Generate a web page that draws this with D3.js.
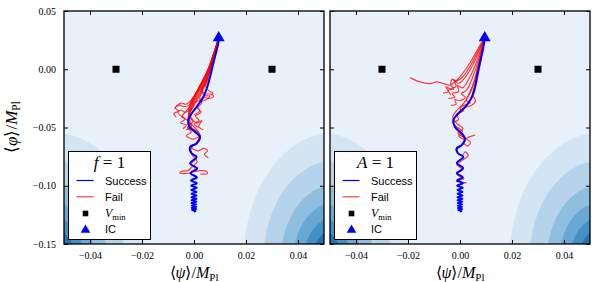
<!DOCTYPE html>
<html lang='en'>
<head>
<meta charset='UTF-8'>
<title>Trajectories</title>
<style>
  body { margin: 0; background: #fff; }
  svg { display: block; }
  .tick text { font-family: 'Liberation Serif', serif; font-size: 10px; fill: #000; }
  .tick line { stroke: #000; stroke-width: 1px; }
</style>
</head>
<body>
<div id='chart'></div>
<script src='https://d3js.org/d3.v7.min.js'></script>
<script>
// tick values
var psiTicks = [-0.04, -0.02, 0, 0.02, 0.04]
var phiTicks = [0.05, 0, -0.05, -0.10, -0.15]

// potential minima and initial condition
var vmin = [[-0.03, 0], [0.03, 0]]
var ic = [0.0095, 0.027]

// potential contour bands (ellipse semi-axes, data units) around two centres
var contourCentres = [[-0.054, -0.164], [0.054, -0.164]]
var contourPsiR = [0.035, 0.0273, 0.0206, 0.0158, 0.0118, 0.0085, 0.0058]
var contourPhiR = [0.1097, 0.0856, 0.0646, 0.0495, 0.037, 0.0266, 0.0182]
var bandColors = ['#e8f1fa', '#d3e4f3', '#b5d3ea', '#8fbfdf', '#68a8d3', '#4490c4', '#2571b1', '#0d559f']

// successful trajectories
var blueLeft = [
  [0.0095, 0.027], [0.0093, 0.022], [0.0074, 0.0049], [0.0055, -0.0123], [0.0036, -0.0238],
  [0.0010, -0.0323], [-0.0009, -0.038], [-0.0022, -0.0437], [-0.0018, -0.0495], [0.0004, -0.0538],
  [0.0023, -0.0581], [0.0010, -0.0637], [-0.0015, -0.0666], [-0.0009, -0.0723], [0.001, -0.0752],
  [-0.0015, -0.0809], [0.0012, -0.0852], [-0.0013, -0.0893], [0.0011, -0.0928], [-0.0012, -0.0955],
  [0.0011, -0.0978], [-0.0011, -0.0999], [0.0011, -0.1018], [-0.0011, -0.1036], [0.001, -0.1053],
  [-0.001, -0.1069], [0.001, -0.1084], [-0.001, -0.1098], [0.001, -0.1111], [-0.001, -0.1124],
  [0.001, -0.1136], [-0.001, -0.1148], [0.0009, -0.1159], [-0.0009, -0.117], [0.0009, -0.118],
  [-0.0009, -0.119], [0.0008, -0.1199], [-0.0008, -0.1208], [0.0006, -0.1216], [0.0, -0.1224]
]
var blueRight = [
  [0.0095, 0.027], [0.009, 0.0191], [0.007, -0.0009], [0.0051, -0.0208], [0.0026, -0.0309],
  [-0.0007, -0.038], [-0.0026, -0.0437], [-0.0019, -0.0495], [0.0007, -0.0551], [0.0019, -0.0594],
  [0.0007, -0.0652], [-0.0013, -0.068], [-0.0007, -0.0723], [0.0013, -0.0752], [-0.0012, -0.0805],
  [0.0012, -0.085], [-0.0012, -0.0893], [0.0011, -0.0928], [-0.0011, -0.0955], [0.0011, -0.0978],
  [-0.0011, -0.0999], [0.0011, -0.1018], [-0.001, -0.1036], [0.001, -0.1053], [-0.001, -0.1069],
  [0.001, -0.1084], [-0.001, -0.1098], [0.001, -0.1111], [-0.001, -0.1124], [0.0009, -0.1136],
  [-0.0009, -0.1148], [0.0009, -0.1159], [-0.0009, -0.117], [0.0008, -0.118], [-0.0008, -0.119],
  [0.0008, -0.1199], [-0.0007, -0.1208], [0.0006, -0.1216], [0.0, -0.1224]
]

// failed trajectories
var redLeft = [
  [[0.0095, 0.027], [0.0086, 0.018], [0.0068, 0.004], [0.0048, -0.009], [0.0028, -0.018], [0.0045, -0.021], [0.0068, -0.0215], [0.0075, -0.0235], [0.0055, -0.025], [0.0035, -0.024], [0.002, -0.027], [0.0005, -0.028]],
  [[0.0095, 0.027], [0.0082, 0.017], [0.0058, 0.002], [0.0032, -0.01], [0.0008, -0.02], [-0.001, -0.027], [-0.002, -0.031], [-0.004, -0.032], [-0.0055, -0.031], [-0.0072, -0.033], [-0.006, -0.036], [-0.0078, -0.038], [-0.0068, -0.041]],
  [[0.0095, 0.027], [0.008, 0.016], [0.0055, 0.0], [0.0028, -0.012], [0.0005, -0.022], [-0.001, -0.03], [-0.003, -0.036], [-0.0045, -0.04], [-0.0035, -0.043], [-0.0052, -0.046], [-0.003, -0.048], [-0.0042, -0.051]],
  [[0.0095, 0.027], [0.0087, 0.018], [0.007, 0.005], [0.0052, -0.008], [0.0035, -0.017], [0.0022, -0.025], [0.003, -0.029], [0.0015, -0.033], [0.0028, -0.037], [0.0005, -0.04], [0.002, -0.044], [0.0, -0.047], [0.0018, -0.05]],
  [[0.0095, 0.027], [0.0081, 0.016], [0.0057, 0.001], [0.003, -0.013], [0.0005, -0.023], [-0.0015, -0.033], [-0.002, -0.04], [-0.0005, -0.045], [-0.0025, -0.05], [-0.001, -0.054], [-0.003, -0.057], [0.0, -0.06], [0.0015, -0.058]],
  [[0.0095, 0.027], [0.0085, 0.017], [0.0066, 0.003], [0.0045, -0.011], [0.0025, -0.021], [0.0, -0.031], [-0.002, -0.04], [-0.001, -0.047], [0.0015, -0.053], [0.0025, -0.058], [0.001, -0.063], [-0.001, -0.067], [0.0015, -0.07], [0.0038, -0.068], [0.0052, -0.07], [0.004, -0.073], [0.0055, -0.076]],
  [[0.0095, 0.027], [0.0083, 0.0165], [0.0063, 0.002], [0.004, -0.012], [0.0018, -0.022], [-0.0005, -0.032], [-0.0022, -0.042], [-0.0012, -0.05], [0.0018, -0.056], [0.0012, -0.063], [-0.0012, -0.068], [-0.0005, -0.074], [0.0012, -0.079], [-0.0008, -0.084], [-0.0025, -0.087], [-0.0045, -0.0875], [-0.0055, -0.089], [-0.003, -0.0895], [0.0, -0.088], [0.0025, -0.087], [0.0048, -0.0875], [0.0052, -0.0895], [0.0025, -0.09]],
  [[0.0095, 0.027], [0.0079, 0.0155], [0.0052, -0.002], [0.0024, -0.015], [0.0, -0.026], [-0.0015, -0.034], [-0.0035, -0.037], [-0.005, -0.035], [-0.0062, -0.037], [-0.0045, -0.041], [-0.0025, -0.044], [-0.001, -0.049], [-0.003, -0.052]],
  [[0.0095, 0.027], [0.0086, 0.0175], [0.0067, 0.0035], [0.0047, -0.01], [0.003, -0.019], [0.004, -0.0225], [0.006, -0.023], [0.0048, -0.026], [0.0025, -0.028], [0.001, -0.032], [0.0022, -0.036], [0.0, -0.039]],
  [[0.0095, 0.027], [0.0084, 0.017], [0.0062, 0.0025], [0.0038, -0.011], [0.0015, -0.021], [-0.0005, -0.031], [-0.0022, -0.041], [-0.0015, -0.049], [0.0015, -0.054], [0.0022, -0.058], [0.0008, -0.064], [-0.0015, -0.067], [-0.0008, -0.072], [0.001, -0.076], [-0.001, -0.081], [0.0005, -0.085], [-0.001, -0.088]],
  [[0.0095, 0.027], [0.0078, 0.015], [0.005, -0.003], [0.002, -0.016], [-0.0005, -0.025], [-0.003, -0.03], [-0.005, -0.029], [-0.0065, -0.031], [-0.0075, -0.034]],
  [[0.0095, 0.027], [0.0088, 0.019], [0.0076, 0.006], [0.006, -0.006], [0.0045, -0.015], [0.006, -0.019], [0.0072, -0.02], [0.0065, -0.0225]],
  [[0.0095, 0.027], [0.0077, 0.0145], [0.0048, -0.004], [0.0018, -0.017], [-0.0008, -0.027], [-0.002, -0.035], [-0.001, -0.042], [0.0012, -0.046], [0.003, -0.044], [0.0018, -0.049], [0.0035, -0.052]]
]
var redRight = [
  [[0.0095, 0.027], [0.007, 0.018], [0.004, 0.006], [0.0005, -0.005], [-0.002, -0.011], [-0.0038, -0.0137], [-0.0064, -0.0123], [-0.009, -0.0109], [-0.0115, -0.0123], [-0.0154, -0.0109], [-0.0192, -0.0072]],
  [[0.0095, 0.027], [0.0075, 0.017], [0.005, 0.004], [0.002, -0.007], [-0.0005, -0.012], [-0.0025, -0.009], [-0.0015, -0.0145], [-0.004, -0.0165], [-0.0055, -0.015], [-0.0045, -0.019], [-0.0065, -0.0205]],
  [[0.0095, 0.027], [0.0078, 0.016], [0.0058, 0.003], [0.0035, -0.008], [0.001, -0.016], [-0.001, -0.014], [-0.0005, -0.019], [-0.003, -0.021], [-0.002, -0.024], [-0.0045, -0.025]],
  [[0.0095, 0.027], [0.008, 0.015], [0.0063, 0.002], [0.0045, -0.009], [0.0025, -0.018], [0.0005, -0.021], [0.002, -0.024], [0.0, -0.027], [-0.002, -0.026], [-0.0015, -0.03], [-0.0035, -0.031]],
  [[0.0095, 0.027], [0.0083, 0.015], [0.0068, 0.001], [0.0055, -0.011], [0.004, -0.02], [0.0025, -0.027], [0.004, -0.029], [0.0015, -0.031], [0.0, -0.034], [0.0015, -0.036]],
  [[0.0095, 0.027], [0.0086, 0.016], [0.0072, 0.002], [0.006, -0.012], [0.0048, -0.022], [0.006, -0.027], [0.0045, -0.031], [0.002, -0.033], [0.0005, -0.037], [-0.0015, -0.039], [-0.0005, -0.043], [-0.0025, -0.046], [-0.001, -0.05], [0.001, -0.053], [-0.0005, -0.057], [0.0015, -0.06], [0.0035, -0.058], [0.0058, -0.0565]],
  [[0.0095, 0.027], [0.0073, 0.0175], [0.0045, 0.005], [0.0012, -0.006], [-0.0015, -0.01], [-0.003, -0.0085], [-0.0035, -0.013], [-0.0025, -0.017], [-0.0045, -0.018], [-0.0035, -0.022]],
  [[0.0095, 0.027], [0.0088, 0.017], [0.0075, 0.001], [0.0062, -0.013], [0.0045, -0.025], [0.0025, -0.031], [0.0, -0.037], [-0.0025, -0.043], [-0.002, -0.05], [0.0005, -0.056], [0.002, -0.061], [0.0, -0.066], [-0.0015, -0.07], [0.0008, -0.074], [0.002, -0.071], [0.0032, -0.074], [0.001, -0.078], [-0.0012, -0.082], [0.001, -0.086], [-0.001, -0.09], [0.0015, -0.094], [-0.0015, -0.096], [0.0025, -0.0975], [0.0, -0.098]],
  [[0.0095, 0.027], [0.0085, 0.017], [0.007, 0.003], [0.0055, -0.01], [0.0035, -0.021], [0.0015, -0.029], [-0.0015, -0.036], [-0.0028, -0.041], [-0.001, -0.047], [0.0012, -0.051], [-0.0008, -0.055], [0.002, -0.059], [0.004, -0.063], [0.003, -0.066], [0.0015, -0.064]]
]

var panels = [
  {id: 'L', x0: 64, param: 'f', blue: blueLeft, red: redLeft, yLabels: true},
  {id: 'R', x0: 330, param: 'A', blue: blueRight, red: redRight, yLabels: false}
]

var W = 609, H = 282
var pw = 260, plotTop = 11, plotBottom = 244

var svg = d3.select('#chart').append('svg')
  .attr('width', W).attr('height', H)
  .attr('font-family', "'Liberation Serif', serif")

var fmt = d3.format('.2f')
var y = d3.scaleLinear().domain([-0.15, 0.05]).range([plotBottom, plotTop])

panels.forEach(function (p) {
  var x = d3.scaleLinear().domain([-0.05, 0.05]).range([p.x0, p.x0 + pw])
  var g = svg.append('g')

  // clip to axes box
  svg.append('defs').append('clipPath').attr('id', 'clip' + p.id)
    .append('rect').attr('x', p.x0).attr('y', plotTop).attr('width', pw).attr('height', plotBottom - plotTop)

  var plot = g.append('g').attr('clip-path', 'url(#clip' + p.id + ')')

  // contour background
  plot.append('rect').attr('x', p.x0).attr('y', plotTop).attr('width', pw).attr('height', plotBottom - plotTop)
    .attr('fill', bandColors[0])
  contourPsiR.forEach(function (rx, i) {
    contourCentres.forEach(function (c) {
      plot.append('ellipse')
        .attr('cx', x(c[0])).attr('cy', y(c[1]))
        .attr('rx', x(rx) - x(0)).attr('ry', y(0) - y(contourPhiR[i]))
        .attr('fill', bandColors[i + 1])
    })
  })

  var line = d3.line()
    .x(function (d) { return x(d[0]) })
    .y(function (d) { return y(d[1]) })
    .curve(d3.curveCatmullRom.alpha(0.5))

  // failed runs
  plot.selectAll('path.fail').data(p.red).enter().append('path')
    .attr('class', 'fail')
    .attr('d', line)
    .attr('fill', 'none')
    .attr('stroke', '#ff0000')
    .attr('stroke-opacity', 0.75)
    .attr('stroke-width', 1.2)

  // successful run
  plot.append('path').datum(p.blue)
    .attr('d', line)
    .attr('fill', 'none')
    .attr('stroke', '#0000ff')
    .attr('stroke-width', 2)

  // minima
  var sq = 7
  plot.selectAll('rect.vmin').data(vmin).enter().append('rect')
    .attr('class', 'vmin')
    .attr('x', function (d) { return x(d[0]) - sq / 2 })
    .attr('y', function (d) { return y(d[1]) - sq / 2 })
    .attr('width', sq).attr('height', sq)
    .attr('fill', '#000')

  // initial condition
  plot.append('path')
    .attr('d', d3.symbol(d3.symbolTriangle, 62)())
    .attr('transform', 'translate(' + x(ic[0]) + ',' + y(ic[1]) + ')')
    .attr('fill', '#0000ff')

  // axes
  function clean(sel) { sel.select('.domain').remove() }
  g.append('g').attr('transform', 'translate(0,' + plotBottom + ')')
    .call(d3.axisBottom(x).tickValues(psiTicks).tickSize(-4).tickPadding(8).tickFormat(fmt)).call(clean)
  g.append('g').attr('transform', 'translate(0,' + plotTop + ')')
    .call(d3.axisTop(x).tickValues(psiTicks).tickSize(-4).tickFormat(function () { return '' })).call(clean)
  g.append('g').attr('transform', 'translate(' + p.x0 + ',0)')
    .call(d3.axisLeft(y).tickValues(phiTicks).tickSize(-4).tickPadding(8)
      .tickFormat(p.yLabels ? fmt : function () { return '' })).call(clean)
  g.append('g').attr('transform', 'translate(' + (p.x0 + pw) + ',0)')
    .call(d3.axisRight(y).tickValues(phiTicks).tickSize(-4).tickFormat(function () { return '' })).call(clean)

  g.append('rect').attr('x', p.x0).attr('y', plotTop).attr('width', pw).attr('height', plotBottom - plotTop)
    .attr('fill', 'none').attr('stroke', '#000').attr('stroke-width', 1.3)

  // x label
  var xl = g.append('text').attr('x', x(0)).attr('y', 278).attr('text-anchor', 'middle')
    .attr('font-size', 16)
  xl.append('tspan').text('\u27e8')
  xl.append('tspan').attr('font-style', 'italic').text('\u03c8')
  xl.append('tspan').text('\u27e9/')
  xl.append('tspan').attr('font-style', 'italic').text('M')
  xl.append('tspan').attr('font-size', 11).attr('dy', 3).text('Pl')

  // legend
  var lg = g.append('g').attr('transform', 'translate(' + (p.x0 + 4.5) + ',151.5)')
  lg.append('rect').attr('width', 82).attr('height', 88)
    .attr('fill', '#fff').attr('stroke', '#000').attr('stroke-width', 1)
  var tt = lg.append('text').attr('x', 41).attr('y', 16).attr('text-anchor', 'middle').attr('font-size', 17)
  tt.append('tspan').attr('font-style', 'italic').text(p.param)
  tt.append('tspan').text(' = 1')
  lg.append('line').attr('x1', 8).attr('x2', 25).attr('y1', 29).attr('y2', 29)
    .attr('stroke', '#0000ff').attr('stroke-width', 1.2)
  lg.append('line').attr('x1', 8).attr('x2', 25).attr('y1', 45.3).attr('y2', 45.3)
    .attr('stroke', '#ff0000').attr('stroke-opacity', 0.75).attr('stroke-width', 1.2)
  lg.append('rect').attr('x', 17 - 2.8).attr('y', 62 - 2.8).attr('width', 5.6).attr('height', 5.6).attr('fill', '#000')
  lg.append('path').attr('d', d3.symbol(d3.symbolTriangle, 40)())
    .attr('transform', 'translate(17,78.5)').attr('fill', '#0000ff')
  var sans = "'Liberation Sans', Arial, sans-serif"
  lg.append('text').attr('x', 36.5).attr('y', 33).attr('font-family', sans).attr('font-size', 11).text('Success')
  lg.append('text').attr('x', 36.5).attr('y', 49.3).attr('font-family', sans).attr('font-size', 11).text('Fail')
  var vt = lg.append('text').attr('x', 36.5).attr('y', 65.5).attr('font-size', 12)
  vt.append('tspan').attr('font-style', 'italic').text('V')
  vt.append('tspan').attr('font-size', 8.5).attr('dy', 2.5).text('min')
  lg.append('text').attr('x', 36.5).attr('y', 81.8).attr('font-family', sans).attr('font-size', 11).text('IC')
})

// y label
var yl = svg.append('text').attr('transform', 'translate(17,127) rotate(-90)')
  .attr('text-anchor', 'middle').attr('font-size', 17)
yl.append('tspan').text('\u27e8')
yl.append('tspan').attr('font-style', 'italic').text('\u03c6')
yl.append('tspan').text('\u27e9/')
yl.append('tspan').attr('font-style', 'italic').text('M')
yl.append('tspan').attr('font-size', 11.5).attr('dy', 3).text('Pl')
</script>
</body>
</html>
